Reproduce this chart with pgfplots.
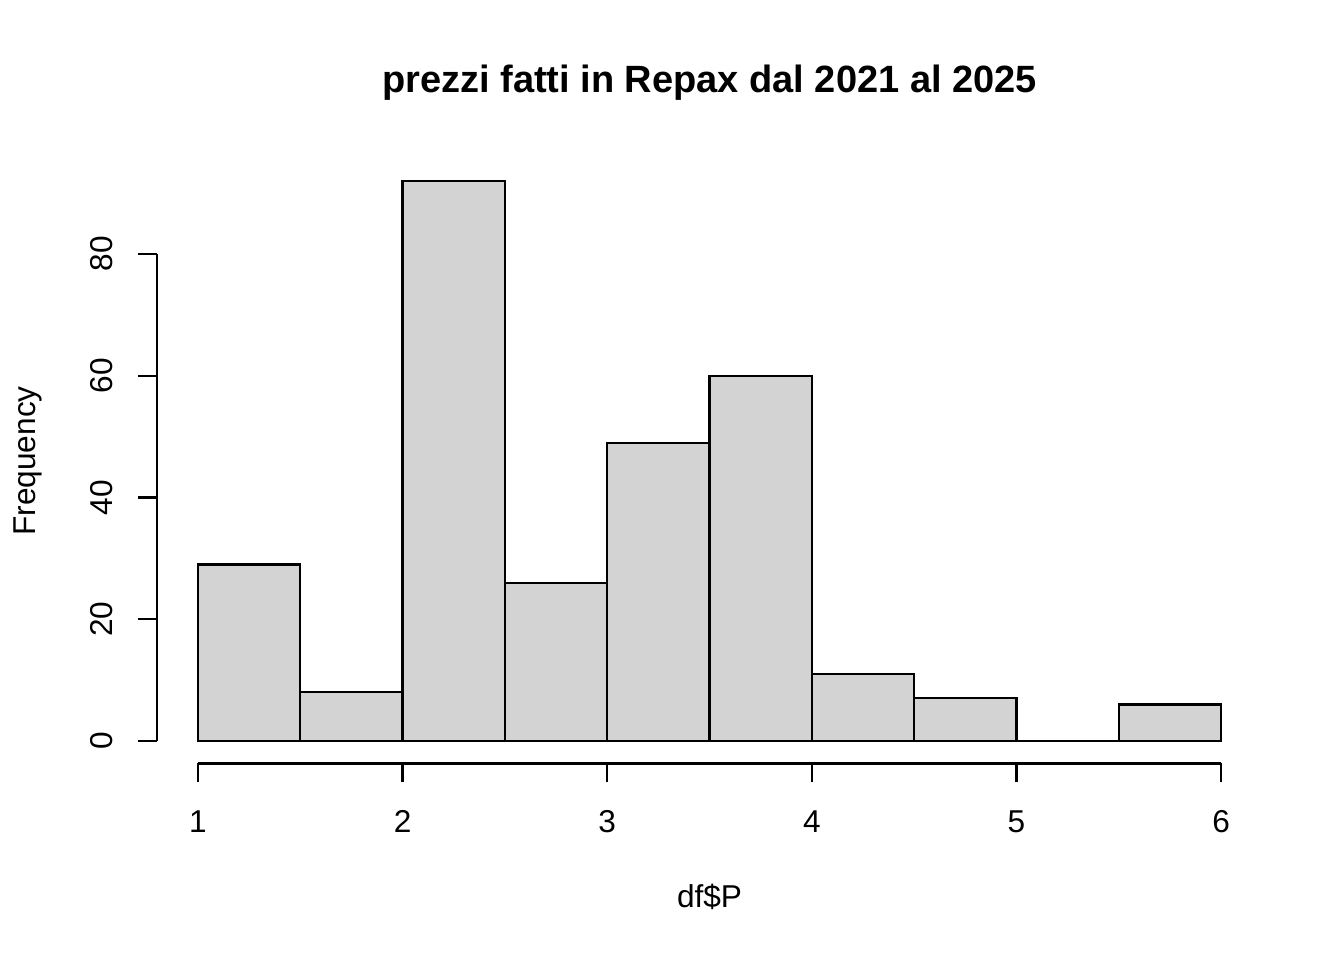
\documentclass[border=0pt]{standalone}
\usepackage{pgfplots}
\pgfplotsset{compat=1.18}
\usepackage{fontspec}
\setmainfont{Liberation Sans}
\definecolor{rgray}{RGB}{211,211,211}
\begin{document}
\begin{tikzpicture}
\path[use as bounding box] (0,0) rectangle (672pt,480pt);
\begin{axis}[
  at={(78.5pt,98.3pt)}, anchor=south west,
  width=552.5pt, height=302.45pt, scale only axis,
  xmin=0.8, xmax=6.2, ymin=-3.68, ymax=95.68,
  axis x line*=bottom, axis y line*=left,
  axis line style={draw=none},
  clip=false,
  xtick={1,2,3,4,5,6}, ytick={0,20,40,60,80},
  tick align=outside, major tick length=9.5pt,
  tick style={black, line width=1.1pt},
  /pgf/number format/assume math mode=true,
  ticklabel style={font=\fontsize{15.8}{19}\selectfont},
  xticklabel style={anchor=base, yshift=-25pt},
  yticklabel style={rotate=90, anchor=base, yshift=12.5pt},
]
\addplot[ybar interval, fill=rgray, draw=black, line width=1.1pt] coordinates {
 (1,29) (1.5,8) (2,92) (2.5,26) (3,49) (3.5,60) (4,11) (4.5,7) (5,0) (5.5,6) (6,6)
};
\draw[line width=1.1pt] (axis cs:1,-3.68) -- (axis cs:6,-3.68);
\draw[line width=1.1pt] (axis cs:0.8,0) -- (axis cs:0.8,80);
\end{axis}
\node[anchor=base, font=\bfseries\fontsize{19}{23}\selectfont, inner sep=0pt] at (354.75pt,433.65pt) {prezzi fatti in Repax dal 2021 al 2025};
\node[anchor=base, font=\fontsize{15.8}{19}\selectfont, inner sep=0pt] at (354.75pt,26.15pt) {df\$P};
\node[anchor=base, rotate=90, font=\fontsize{15.8}{19}\selectfont, inner sep=0pt] at (17.5pt,249.5pt) {Frequency};
\end{tikzpicture}
\end{document}
